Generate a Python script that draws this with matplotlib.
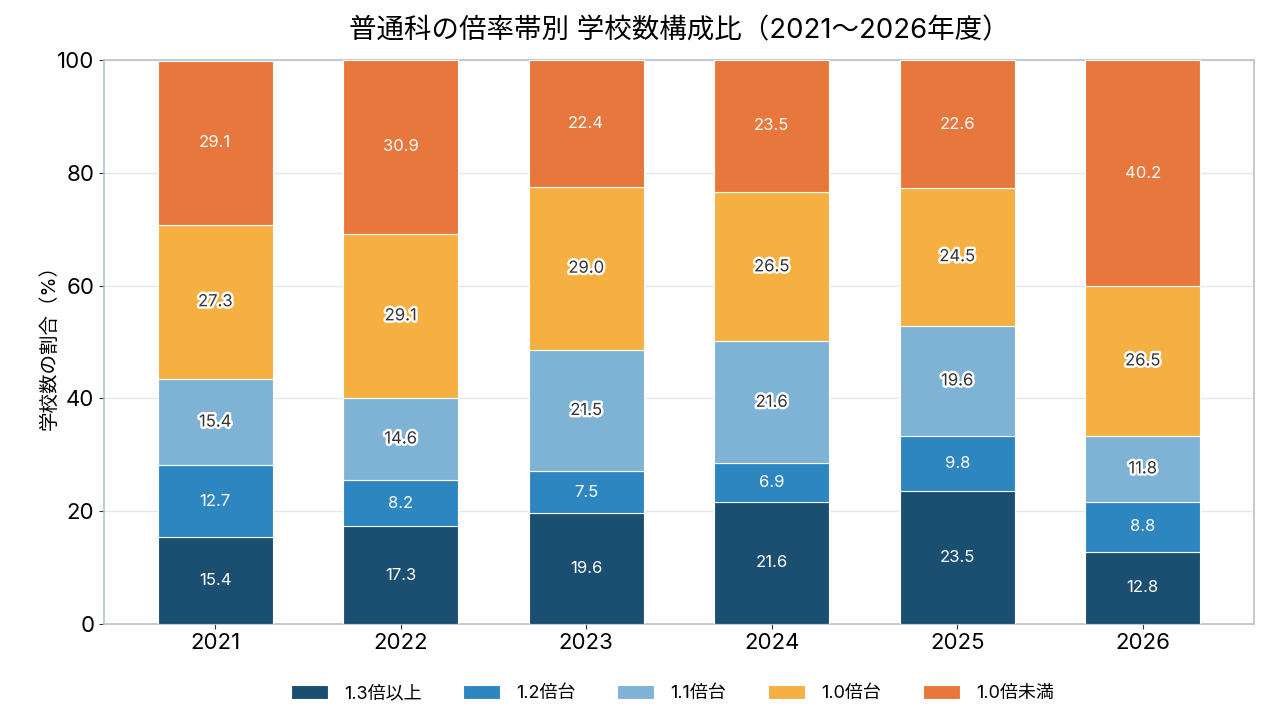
import matplotlib
matplotlib.use("Agg")
import matplotlib.pyplot as plt
import matplotlib.patheffects as pe
import numpy as np

plt.rcParams['font.family'] = ['Inter', 'Noto Sans CJK JP', 'DejaVu Sans']

years = ['2021', '2022', '2023', '2024', '2025', '2026']
categories = ['1.3倍以上', '1.2倍台', '1.1倍台', '1.0倍台', '1.0倍未満']
r13 = [15.4, 17.3, 19.6, 21.6, 23.5, 12.8]
r12 = [12.7, 8.2, 7.5, 6.9, 9.8, 8.8]
r11 = [15.4, 14.6, 21.5, 21.6, 19.6, 11.8]
r10 = [27.3, 29.1, 29.0, 26.5, 24.5, 26.5]
r_under = [29.1, 30.9, 22.4, 23.5, 22.6, 40.2]
colors = ['#1b4f72', '#2e86c1', '#7fb3d5', '#f5b041', '#e8773d']

series = [r13, r12, r11, r10, r_under]

fig, ax = plt.subplots(figsize=(12.68, 7.27), dpi=100)
fig.subplots_adjust(left=0.082, right=0.989, top=0.917, bottom=0.142)

x = np.arange(len(years))
bottom = np.zeros(len(years))
for i, (vals, name, c) in enumerate(zip(series, categories, colors)):
    vals = np.array(vals)
    ax.bar(x, vals, 0.62, bottom=bottom, color=c, label=name,
           edgecolor='white', linewidth=0.8, zorder=3)
    for xi, b, v in zip(x, bottom, vals):
        if i in (2, 3):
            ax.text(xi, b + v / 2, f'{v:.1f}', ha='center', va='center',
                    fontsize=12, color='#333333', zorder=4,
                    path_effects=[pe.withStroke(linewidth=3.5, foreground='white')])
        else:
            ax.text(xi, b + v / 2, f'{v:.1f}', ha='center', va='center',
                    fontsize=12, color='white', zorder=4)
    bottom += vals

ax.set_xlim(-0.6, 5.6)
ax.set_ylim(0, 100)
ax.set_xticks(x)
ax.set_xticklabels(years, fontsize=16)
ax.set_yticks(range(0, 101, 20))
ax.tick_params(axis='y', labelsize=16)
ax.tick_params(axis='both', color='#333333')
ax.set_ylabel('学校数の割合（%）', fontsize=14, labelpad=-1)
ax.set_title('普通科の倍率帯別 学校数構成比（2021～2026年度）', fontsize=19.8, pad=16)
ax.yaxis.grid(True, color='#e3e8ef', linewidth=1, zorder=0)
for s in ax.spines.values():
    s.set_color('#b8c2cc')
    s.set_linewidth(1.2)

ax.legend(loc='upper center', bbox_to_anchor=(0.494, -0.08), ncol=5,
          frameon=False, fontsize=13, handlelength=2.05, handleheight=0.8,
          handletextpad=0.9, columnspacing=2.3)

fig.savefig('out.png', dpi=100)
